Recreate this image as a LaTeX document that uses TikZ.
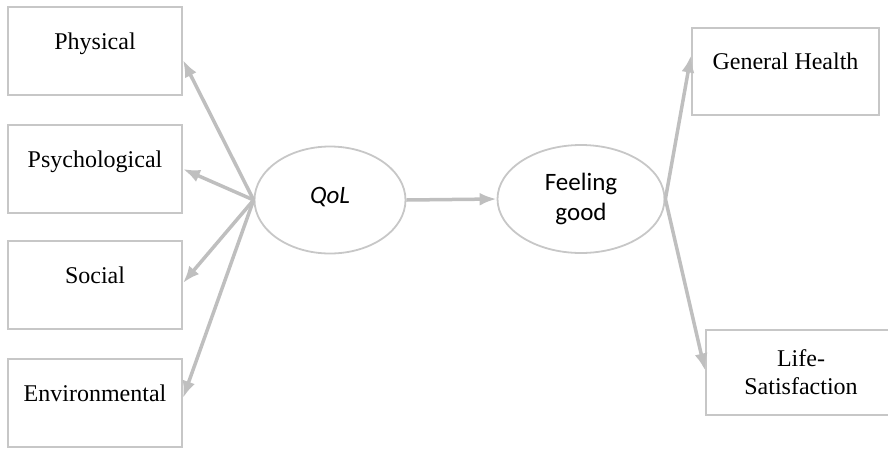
\documentclass[tikz,border=0pt]{standalone}
\usepackage{fontspec}
\setmainfont{Liberation Serif}
\newfontfamily\ellfont{Carlito}
\usetikzlibrary{arrows.meta,shapes.geometric}

\begin{document}
\begin{tikzpicture}[x=1pt,y=-1pt,
  BoxStyle/.style={draw=black!22,line width=2pt,minimum width=174pt,minimum height=88pt,inner sep=0pt,font=\fontsize{24}{28}\selectfont,align=center},
  TopText/.style={text height=17pt,text depth=21pt},
  EllStyle/.style={ellipse,draw=black!22,line width=1.8pt,inner sep=0pt,font=\ellfont\fontsize{25}{30}\selectfont,align=center},
  EdgeStyle/.style={draw=black!25,line width=3.5pt,-{Latex[length=17pt,width=13pt]}}]
  \useasboundingbox (0,0) rectangle (888,448);
  % left boxes
  \node[BoxStyle,TopText] (phys) at (95,51) {Physical};
  \node[BoxStyle,TopText] (psych) at (95,169) {Psychological};
  \node[BoxStyle,TopText] (soc) at (95,285) {Social};
  \node[BoxStyle,TopText] (env) at (95,403) {Environmental};
  % latent variables
  \node[EllStyle,minimum width=151pt,minimum height=107pt,text height=18pt,text depth=12pt] (qol) at (330,200) {\itshape QoL};
  \node[EllStyle,minimum width=167pt,minimum height=108pt] (feel) at (581,199) {Feeling\\good};
  % right boxes
  \node[BoxStyle,TopText,minimum width=187pt,minimum height=87pt] (gen) at (785.5,71.5) {General Health};
  \node[BoxStyle,minimum width=190pt,minimum height=85pt] (life) at (801,372.5) {Life-\\Satisfaction};
  \draw[EdgeStyle] (qol.west) -- ([yshift=-9pt]phys.east);
  \draw[EdgeStyle] (qol.west) -- (psych.east);
  \draw[EdgeStyle] (qol.west) -- ([yshift=2pt]soc.east);
  \draw[EdgeStyle] (qol.west) -- ([yshift=5pt]env.east);
  \draw[EdgeStyle] (qol.east) -- (feel.west);
  \draw[EdgeStyle] (feel.east) -- ([yshift=16pt]gen.west);
  \draw[EdgeStyle] (feel.east) -- ([yshift=2pt]life.west);
\end{tikzpicture}
\end{document}
